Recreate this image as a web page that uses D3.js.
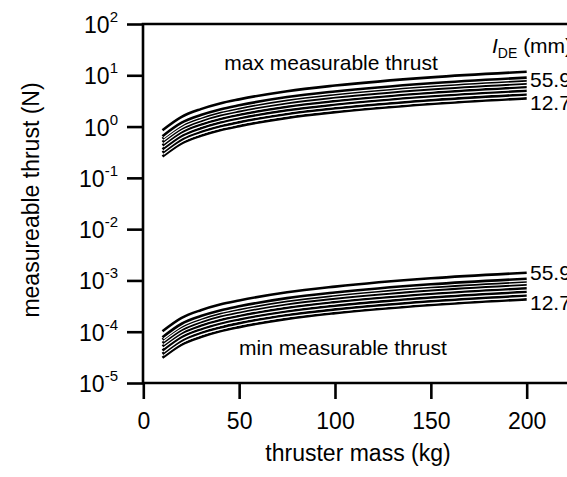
<!DOCTYPE html>
<html>
<head>
<meta charset="utf-8">
<script src="https://cdn.jsdelivr.net/npm/d3@7"></script>
<style>
  body { margin: 0; background: #fff; }
  svg { display: block; }
  text { font-family: "Liberation Sans", Arial, sans-serif; fill: #000; }
</style>
</head>
<body>
<svg width="567" height="477"></svg>
<script>
// thruster mass (kg)
const mass = [10, 20, 30, 40, 50, 75, 100, 150, 200];

// I_DE (mm) labels for the top and bottom curve in each group
const ideLabels = ["55.9", "12.7"];

// max measurable thrust (N), one row per electrode diameter
const maxThrust = [
  [0.85, 1.55, 2.19, 2.82, 3.39, 4.90, 6.31, 9.12, 11.7],
  [0.65, 1.19, 1.68, 2.16, 2.60, 3.76, 4.84, 7.00, 9.01],
  [0.58, 1.05, 1.48, 1.91, 2.29, 3.31, 4.27, 6.17, 7.94],
  [0.50, 0.91, 1.29, 1.66, 2.00, 2.89, 3.72, 5.37, 6.92],
  [0.43, 0.78, 1.10, 1.41, 1.70, 2.45, 3.16, 4.57, 5.89],
  [0.36, 0.66, 0.93, 1.20, 1.45, 2.09, 2.69, 3.89, 5.02],
  [0.31, 0.56, 0.79, 1.01, 1.22, 1.76, 2.27, 3.27, 4.22],
  [0.26, 0.47, 0.66, 0.85, 1.02, 1.48, 1.91, 2.75, 3.55]
];

// min measurable thrust (N)
const minThrust = [
  [1.02e-4, 1.86e-4, 2.63e-4, 3.39e-4, 4.07e-4, 5.89e-4, 7.58e-4, 1.10e-3, 1.41e-3],
  [0.78e-4, 1.43e-4, 2.02e-4, 2.60e-4, 3.13e-4, 4.52e-4, 5.82e-4, 8.41e-4, 1.08e-3],
  [0.70e-4, 1.26e-4, 1.78e-4, 2.30e-4, 2.75e-4, 3.98e-4, 5.13e-4, 7.42e-4, 9.54e-4],
  [0.60e-4, 1.09e-4, 1.55e-4, 2.00e-4, 2.40e-4, 3.47e-4, 4.47e-4, 6.45e-4, 8.32e-4],
  [0.52e-4, 0.94e-4, 1.32e-4, 1.69e-4, 2.04e-4, 2.94e-4, 3.80e-4, 5.49e-4, 7.08e-4],
  [0.43e-4, 0.79e-4, 1.12e-4, 1.44e-4, 1.74e-4, 2.51e-4, 3.23e-4, 4.68e-4, 6.03e-4],
  [0.37e-4, 0.67e-4, 0.95e-4, 1.21e-4, 1.47e-4, 2.12e-4, 2.73e-4, 3.93e-4, 5.07e-4],
  [0.31e-4, 0.56e-4, 0.79e-4, 1.02e-4, 1.23e-4, 1.78e-4, 2.30e-4, 3.31e-4, 4.27e-4]
];

const xTicks = [0, 50, 100, 150, 200];
const yExponents = [2, 1, 0, -1, -2, -3, -4, -5];

const margin = { top: 24, left: 143, bottom: 383 };

const svg = d3.select("svg");

const x = d3.scaleLinear().domain([0, 230]).range([143.3, 584.2]);
const y = d3.scaleLog().domain([1e-5, 1e2]).range([margin.bottom, margin.top]);

// frame (right side is cut off by the picture edge)
svg.append("path")
   .attr("d", `M600,${margin.top}H${margin.left}V${margin.bottom}H600`)
   .attr("fill", "none")
   .attr("stroke", "#000")
   .attr("stroke-width", 2.6);

// x axis
const xAxis = svg.append("g")
   .attr("transform", `translate(0,${margin.bottom})`)
   .call(d3.axisBottom(x).tickValues(xTicks).tickSize(16).tickPadding(14).tickSizeOuter(0));
xAxis.select(".domain").remove();
xAxis.selectAll(".tick line").attr("stroke-width", 2.6);
xAxis.selectAll(".tick text")
     .attr("font-size", 23)
     .attr("font-family", "Liberation Sans, Arial, sans-serif");

// y axis, labels drawn by hand as 10^n
const yAxis = svg.append("g")
   .attr("transform", `translate(${margin.left},0)`)
   .call(d3.axisLeft(y).tickValues(yExponents.map(e => Math.pow(10, e))).tickSize(16).tickFormat(""));
yAxis.select(".domain").remove();
yAxis.selectAll(".tick line").attr("stroke-width", 2.6);

const yLab = svg.append("g").selectAll("text")
   .data(yExponents)
   .join("text")
   .attr("x", 118)
   .attr("y", d => y(Math.pow(10, d)) + 9)
   .attr("text-anchor", "end")
   .attr("font-size", 23);
yLab.append("tspan").text("10");
yLab.append("tspan")
    .attr("font-size", 15)
    .attr("dy", -11)
    .text(d => d);

// axis titles
svg.append("text")
   .attr("x", 358)
   .attr("y", 461)
   .attr("text-anchor", "middle")
   .attr("font-size", 23)
   .text("thruster mass (kg)");

svg.append("text")
   .attr("transform", "translate(39,200) rotate(-90)")
   .attr("text-anchor", "middle")
   .attr("font-size", 23)
   .text("measureable thrust (N)");

// curves: black line with white halo
const line = d3.line()
   .x((d, i) => x(mass[i]))
   .y(d => y(d))
   .curve(d3.curveMonotoneX);

function drawGroup(rows) {
  const g = svg.append("g");
  rows.forEach(r => {
    g.append("path").attr("d", line(r))
     .attr("fill", "none").attr("stroke", "#fff").attr("stroke-width", 5);
    g.append("path").attr("d", line(r))
     .attr("fill", "none").attr("stroke", "#000").attr("stroke-width", 2.6);
  });
}
drawGroup(maxThrust.slice().reverse());
drawGroup(minThrust.slice().reverse());

// annotations
svg.append("text")
   .attr("x", 331).attr("y", 70)
   .attr("text-anchor", "middle")
   .attr("font-size", 21)
   .text("max measurable thrust");

svg.append("text")
   .attr("x", 343).attr("y", 355)
   .attr("text-anchor", "middle")
   .attr("font-size", 21)
   .text("min measurable thrust");

const ide = svg.append("text")
   .attr("x", 492).attr("y", 53)
   .attr("font-size", 21);
ide.append("tspan").attr("font-style", "italic").text("I");
ide.append("tspan").attr("font-size", 14).attr("dy", 5).text("DE");
ide.append("tspan").attr("dy", -5).text(" (mm)");

const lab = [
  { t: ideLabels[0], y: 87 }, { t: ideLabels[1], y: 110 },
  { t: ideLabels[0], y: 280 }, { t: ideLabels[1], y: 310 }
];
svg.append("g").selectAll("text")
   .data(lab)
   .join("text")
   .attr("x", 530)
   .attr("y", d => d.y)
   .attr("font-size", 21)
   .text(d => d.t);
</script>
</body>
</html>
